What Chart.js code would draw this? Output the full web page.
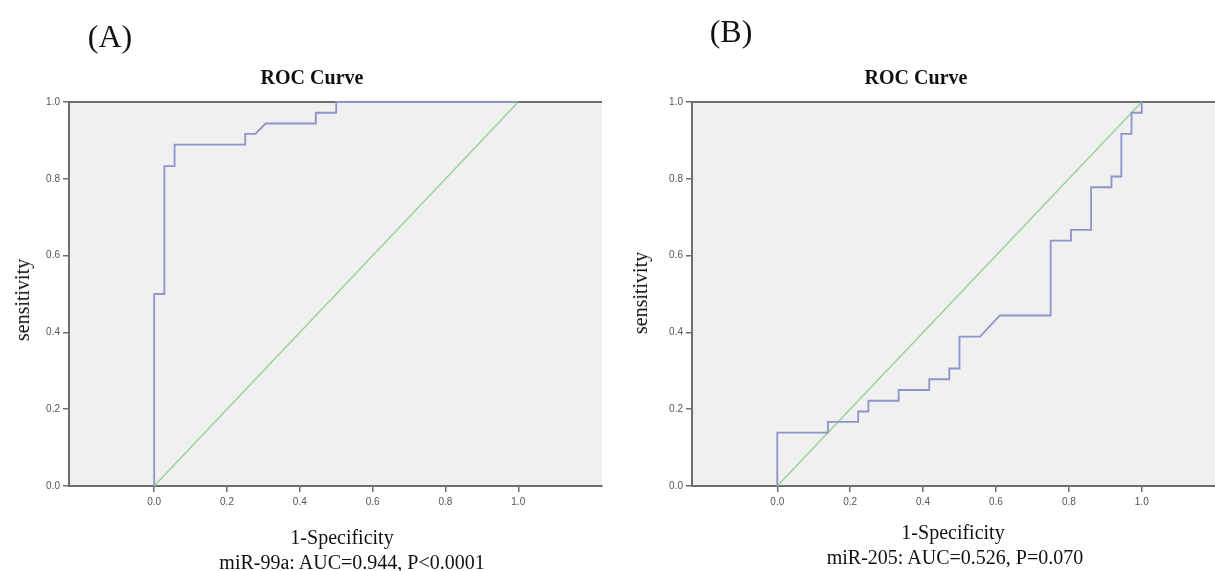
<!DOCTYPE html>
<html>
<head>
<meta charset="utf-8">
<script src="https://cdn.jsdelivr.net/npm/chart.js@4.4.1/dist/chart.umd.min.js"></script>
<style>
  body { margin: 0; background: #fff; }
  #page { position: relative; width: 1215px; height: 571px; overflow: hidden; background: #fff; }
  .panel { position: absolute; top: 0; height: 571px; }
  .txt { position: absolute; transform: translate(-50%, -50%); white-space: nowrap; line-height: 1;
         font-family: 'Liberation Serif', 'DejaVu Serif', serif; color: #111; }
  .tag { font-size: 32px; }
  .ttl { font-size: 20px; font-weight: bold; }
  .ax { font-size: 20px; }
  .cap { font-size: 20px; }
  .ylab { font-size: 20px; transform: translate(-50%, -50%) rotate(-90deg); }
</style>
</head>
<body>
<div id="page">
  <div class="panel" style="left:0; width:605px;"><canvas id="rocA"></canvas></div>
  <div class="panel" style="left:607px; width:608px;"><canvas id="rocB"></canvas></div>

  <div class="txt tag" style="left:110px; top:36px;">(A)</div>
  <div class="txt tag" style="left:731px; top:31px;">(B)</div>
  <div class="txt ttl" style="left:312px; top:77px;">ROC Curve</div>
  <div class="txt ttl" style="left:916px; top:77px;">ROC Curve</div>
  <div class="txt ylab" style="left:22px; top:300px;">sensitivity</div>
  <div class="txt ylab" style="left:640px; top:293px;">sensitivity</div>
  <div class="txt ax" style="left:342px; top:537px;">1-Specificity</div>
  <div class="txt ax" style="left:953px; top:532px;">1-Specificity</div>
  <div class="txt cap" style="left:352px; top:562px;">miR-99a: AUC=0.944, P&lt;0.0001</div>
  <div class="txt cap" style="left:955px; top:557px;">miR-205: AUC=0.526, P=0.070</div>
</div>

<script>
// ROC curve A (miR-99a)
const fprA = [0, 0, 0.028, 0.028, 0.056, 0.056, 0.25, 0.25, 0.278, 0.306, 0.444, 0.444, 0.5, 0.5, 1]
const tprA = [0, 0.5, 0.5, 0.833, 0.833, 0.889, 0.889, 0.917, 0.917, 0.944, 0.944, 0.972, 0.972, 1, 1]

// ROC curve B (miR-205)
const fprB = [0, 0, 0.139, 0.139, 0.222, 0.222, 0.25, 0.25, 0.333, 0.333, 0.417, 0.417, 0.472, 0.472, 0.5, 0.5,
              0.556, 0.611, 0.75, 0.75, 0.806, 0.806, 0.861, 0.861, 0.917, 0.917, 0.944, 0.944, 0.972, 0.972, 1, 1]
const tprB = [0, 0.139, 0.139, 0.167, 0.167, 0.194, 0.194, 0.222, 0.222, 0.25, 0.25, 0.278, 0.278, 0.306, 0.306, 0.389,
              0.389, 0.444, 0.444, 0.639, 0.639, 0.667, 0.667, 0.778, 0.778, 0.806, 0.806, 0.917, 0.917, 0.972, 0.972, 1]

// reference diagonal
const refX = [0, 1]
const refY = [0, 1]

const xTicks = [0, 0.2, 0.4, 0.6, 0.8, 1.0]
const yTicks = [0, 0.2, 0.4, 0.6, 0.8, 1.0]

const axisGrey = '#6e6e6e'

// grey plot background + top frame line
const plotBg = {
  id: 'plotBg',
  beforeDraw(chart) {
    const { ctx, chartArea: a } = chart
    ctx.save()
    ctx.fillStyle = '#f0f0f0'
    ctx.fillRect(a.left, a.top, a.right - a.left, a.bottom - a.top)
    ctx.strokeStyle = axisGrey
    ctx.lineWidth = 2
    ctx.beginPath()
    ctx.moveTo(a.left, a.top)
    ctx.lineTo(a.right, a.top)
    ctx.stroke()
    ctx.restore()
  }
}

function pts(xs, ys) {
  return xs.map((x, i) => ({ x, y: ys[i] }))
}

function makeRoc(id, fpr, tpr, xMin, xMax, yAxisWidth, padRight) {
  const tickFont = { family: 'Liberation Sans', size: 10 }
  return new Chart(document.getElementById(id), {
    type: 'scatter',
    data: {
      datasets: [
        { data: pts(fpr, tpr), showLine: true, borderColor: '#8c94c8', borderWidth: 1.8, pointRadius: 0, clip: 3 },
        { data: pts(refX, refY), showLine: true, borderColor: '#9ed49e', borderWidth: 1.6, pointRadius: 0, clip: 3 }
      ]
    },
    options: {
      responsive: true,
      maintainAspectRatio: false,
      animation: false,
      layout: { padding: { top: 102, right: padRight, left: 0, bottom: 0 } },
      plugins: { legend: { display: false }, tooltip: { enabled: false } },
      scales: {
        x: {
          type: 'linear', min: xMin, max: xMax,
          afterBuildTicks: s => { s.ticks = xTicks.map(v => ({ value: v })) },
          afterFit: s => { s.height = 85 },
          grid: { drawOnChartArea: false, drawTicks: true, tickLength: 6, color: axisGrey, lineWidth: 1.5 },
          border: { color: axisGrey, width: 2 },
          ticks: { color: '#555', font: tickFont, padding: 4, maxRotation: 0, autoSkip: false,
                   callback: v => Number(v).toFixed(1) }
        },
        y: {
          type: 'linear', min: 0, max: 1,
          afterBuildTicks: s => { s.ticks = yTicks.map(v => ({ value: v })) },
          afterFit: s => { s.width = yAxisWidth },
          grid: { drawOnChartArea: false, drawTicks: true, tickLength: 6, color: axisGrey, lineWidth: 1.5 },
          border: { color: axisGrey, width: 2 },
          ticks: { color: '#555', font: tickFont, padding: 3, autoSkip: false,
                   callback: v => Number(v).toFixed(1) }
        }
      }
    },
    plugins: [plotBg]
  })
}

makeRoc('rocA', fprA, tprA, -0.234, 1.23, 69, 3)
makeRoc('rocB', fprB, tprB, -0.234, 1.201, 85, 0)
</script>
</body>
</html>
